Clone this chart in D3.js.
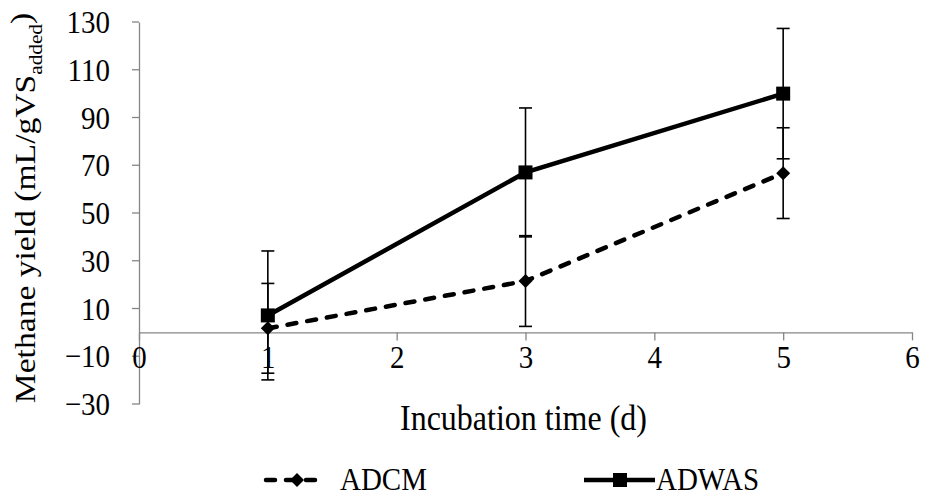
<!DOCTYPE html>
<html>
<head>
<meta charset="utf-8">
<script src="https://cdn.jsdelivr.net/npm/d3@7"></script>
<style>
  body { margin: 0; background: #fff; }
  svg text { font-family: "Liberation Serif", "Times New Roman", serif !important; fill: #000; }
</style>
</head>
<body>
<div id="container"></div>
<script>
// data
var days = [1, 3, 5];
var adcm = [1.7, 21.5, 66.7];
var adcmErr = [18.8, 19, 19];
var adwas = [7.1, 67, 100];
var adwasErr = [27, 27, 27.3];
var xTicks = [0, 1, 2, 3, 4, 5, 6];
var yTicks = [-30, -10, 10, 30, 50, 70, 90, 110, 130];

var w = 925, h = 496;
var stretch = 1.12; // text in the picture is a bit taller than it is wide
var axisColor = "#868686";
var serif = "'Liberation Serif', 'Times New Roman', serif";

var svg = d3.select("#container")
	.append("svg")
	.attr("width", w)
	.attr("height", h);

var x = d3.scaleLinear().domain([0, 6]).range([139, 912]);
var y = d3.scaleLinear().domain([-30, 130]).range([404, 22]);

//Y axis
var yAxis = svg.append("g")
	.attr("transform", "translate(" + x(0) + ",0)")
	.call(d3.axisLeft(y).tickValues(yTicks).tickFormat(d3.format("d"))
		.tickSize(7).tickPadding(22).tickSizeOuter(0));
yAxis.attr("font-family", serif);
yAxis.select(".domain").attr("stroke", axisColor).attr("stroke-width", 1.3);
yAxis.selectAll(".tick line").attr("stroke", axisColor).attr("stroke-width", 1.3);
// scaling moves the text, so place each label from the tick value
yAxis.selectAll(".tick").each(function(d) {
	var t = d3.select(this).attr("transform", null);
	t.select("line").attr("y1", y(d)).attr("y2", y(d));
	t.select("text")
		.style("font-family", serif)
		.attr("font-size", 29)
		.attr("dy", "0.34em")
		.attr("transform", "translate(0," + y(d) + ") scale(1," + stretch + ")");
});

//X axis crosses at zero
var xAxis = svg.append("g")
	.attr("transform", "translate(0," + y(0) + ")")
	.call(d3.axisBottom(x).tickValues(xTicks).tickFormat(d3.format("d"))
		.tickSize(8).tickPadding(3.5).tickSizeOuter(0));
xAxis.attr("font-family", serif);
xAxis.select(".domain").attr("stroke", axisColor).attr("stroke-width", 1.3);
xAxis.selectAll(".tick line").attr("stroke", axisColor).attr("stroke-width", 1.3);
xAxis.selectAll(".tick text")
	.style("font-family", serif)
	.attr("font-size", 29)
	.attr("transform", "scale(1," + stretch + ")");

//Axis titles
svg.append("text")
	.attr("text-anchor", "middle")
	.attr("font-size", 32)
	.attr("transform", "translate(" + ((x(0) + x(6)) / 2 - 2) + ",430) scale(1," + stretch + ")")
	.text("Incubation time (d)");

var yTitle = svg.append("text")
	.attr("text-anchor", "middle")
	.attr("font-size", 30)
	.attr("transform", "translate(35,208) rotate(-90) scale(" + stretch + ",1)");
yTitle.append("tspan").text("Methane yield (mL/gVS");
yTitle.append("tspan").attr("font-size", 19).attr("dy", "0.35em").text("added");
yTitle.append("tspan").attr("dy", "-0.35em").text(")");

//Error bars
function errorBars(vals, errs) {
	var g = svg.append("g");
	vals.forEach(function(v, i) {
		var cx = x(days[i]);
		g.append("line")
			.attr("x1", cx).attr("x2", cx)
			.attr("y1", y(v + errs[i])).attr("y2", y(v - errs[i]))
			.attr("stroke", "#000").attr("stroke-width", 1.6);
		[v + errs[i], v - errs[i]].forEach(function(e) {
			g.append("line")
				.attr("x1", cx - 6.5).attr("x2", cx + 6.5)
				.attr("y1", y(e)).attr("y2", y(e))
				.attr("stroke", "#000").attr("stroke-width", 1.6);
		});
	});
}
errorBars(adwas, adwasErr);
errorBars(adcm, adcmErr);

//Lines
var line = d3.line()
	.x(function(d, i) { return x(days[i]); })
	.y(function(d) { return y(d); });

svg.append("path")
	.datum(adcm)
	.attr("d", line)
	.attr("fill", "none")
	.attr("stroke", "#000")
	.attr("stroke-width", 4.5)
	.attr("stroke-linecap", "round")
	.attr("stroke-dasharray", "9,11");

svg.append("path")
	.datum(adwas)
	.attr("d", line)
	.attr("fill", "none")
	.attr("stroke", "#000")
	.attr("stroke-width", 4.5);

//Markers
var diamond = "M0,-7L7,0L0,7L-7,0Z";
svg.selectAll(".dia")
	.data(adcm)
	.enter()
	.append("path")
	.attr("class", "dia")
	.attr("d", diamond)
	.attr("transform", function(d, i) { return "translate(" + x(days[i]) + "," + y(d) + ")"; })
	.attr("fill", "#000");

svg.selectAll(".sq")
	.data(adwas)
	.enter()
	.append("rect")
	.attr("class", "sq")
	.attr("x", function(d, i) { return x(days[i]) - 7; })
	.attr("y", function(d) { return y(d) - 7; })
	.attr("width", 14)
	.attr("height", 14)
	.attr("fill", "#000");

//Legend
var ly = 480;
var leg = svg.append("g");
leg.append("line")
	.attr("x1", 266).attr("x2", 322).attr("y1", ly).attr("y2", ly)
	.attr("stroke", "#000").attr("stroke-width", 4.5)
	.attr("stroke-linecap", "round")
	.attr("stroke-dasharray", "9,11");
leg.append("path")
	.attr("d", diamond)
	.attr("transform", "translate(297," + ly + ")")
	.attr("fill", "#000");
leg.append("text")
	.attr("font-size", 29)
	.attr("transform", "translate(340,490) scale(1," + stretch + ")")
	.text("ADCM");

leg.append("line")
	.attr("x1", 584).attr("x2", 655).attr("y1", ly).attr("y2", ly)
	.attr("stroke", "#000").attr("stroke-width", 4.5);
leg.append("rect")
	.attr("x", 613).attr("y", ly - 7)
	.attr("width", 14).attr("height", 14)
	.attr("fill", "#000");
leg.append("text")
	.attr("font-size", 29)
	.attr("transform", "translate(656,490) scale(1," + stretch + ")")
	.text("ADWAS");
</script>
</body>
</html>
